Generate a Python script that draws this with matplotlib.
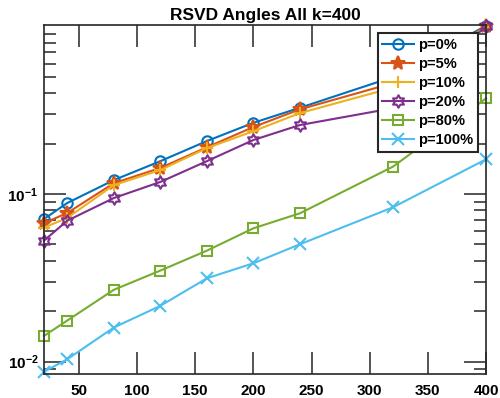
import numpy as np
import matplotlib
matplotlib.use("Agg")
import matplotlib.pyplot as plt
from matplotlib.path import Path
from matplotlib.ticker import FixedLocator, FixedFormatter, NullFormatter

plt.rcParams['font.family'] = ['Liberation Sans', 'DejaVu Sans']
plt.rcParams['font.weight'] = 'bold'
plt.rcParams['mathtext.fontset'] = 'custom'
plt.rcParams['mathtext.rm'] = 'Liberation Sans:bold'
plt.rcParams['mathtext.bf'] = 'Liberation Sans:bold'
plt.rcParams['mathtext.default'] = 'bf'

# ---- data ----
k_values = [20, 40, 80, 120, 160, 200, 240, 320, 400]
p0   = [0.0709, 0.0884, 0.121, 0.157, 0.207, 0.266, 0.327, 0.499, 1.01]
p5   = [0.0670, 0.0770, 0.116, 0.143, 0.190, 0.251, 0.320, 0.459, 1.00]
p10  = [0.0630, 0.0720, 0.113, 0.139, 0.188, 0.237, 0.304, 0.431, 0.99]
p20  = [0.0527, 0.0693, 0.0946, 0.118, 0.157, 0.210, 0.258, 0.325, 1.00]
p80  = [0.01422, 0.01757, 0.0268, 0.0349, 0.0459, 0.0624, 0.0767, 0.1456, 0.372]
p100 = [0.00869, 0.01032, 0.01596, 0.0215, 0.0314, 0.0386, 0.0501, 0.0833, 0.161]
labels = ['p=0%', 'p=5%', 'p=10%', 'p=20%', 'p=80%', 'p=100%']
xtick_vals = [50, 100, 150, 200, 250, 300, 350, 400]
ytick_vals = [0.01, 0.1]
ytick_labels = [r'$10^{-2}$', r'$10^{-1}$']
title = 'RSVD Angles All k=400'

colors = ['#0072BD', '#D95319', '#EDB120', '#7E2F8E', '#77AC30', '#4DBEEE']
hexagram = Path.unit_regular_star(6, 0.577)
markers = ['o', '*', '+', hexagram, 's', 'x']
msizes = [7.5, 10, 9, 9, 7, 8]

fig = plt.figure(figsize=(5.0, 3.98), dpi=100)
ax = fig.add_axes([0.088, 0.0595, 0.884, 0.8775])

series = [p0, p5, p10, p20, p80, p100]
for s, c, m, ms, lab in zip(series, colors, markers, msizes, labels):
    filled = (m == '*')
    ax.plot(k_values, s, color=c, marker=m, markersize=ms, lw=1.5,
            markerfacecolor=(c if filled else 'none'), markeredgecolor=c,
            markeredgewidth=1.5, label=lab, clip_on=False)

ax.set_yscale('log')
ax.set_xlim(20, 400)
ax.set_ylim(0.00839, 1.019)

ax.xaxis.set_major_locator(FixedLocator(xtick_vals))
ax.set_xticklabels([str(v) for v in xtick_vals])
ax.yaxis.set_major_locator(FixedLocator(ytick_vals))
ax.yaxis.set_major_formatter(FixedFormatter(ytick_labels))
minor = [m * 10.0**e for e in (-3, -2, -1) for m in range(2, 10)]
ax.yaxis.set_minor_locator(FixedLocator(minor))
ax.yaxis.set_minor_formatter(NullFormatter())

ax.tick_params(which='major', direction='in', length=16, width=1.1,
               top=True, right=True, labelsize=11, pad=4, color='#262626')
ax.tick_params(axis='x', which='major', pad=7)
ax.tick_params(which='minor', direction='in', length=8.5, width=1.1,
               top=False, right=True, color='#262626')
ax.tick_params(axis='x', which='minor', bottom=False, top=False)
for lbl in ax.get_xticklabels() + ax.get_yticklabels():
    lbl.set_fontweight('bold')
for sp in ax.spines.values():
    sp.set_linewidth(1.2)
    sp.set_color('#262626')

ax.set_title(title, fontsize=12.5, fontweight='bold', pad=4)

leg = ax.legend(loc='upper right', bbox_to_anchor=(0.982, 0.976),
                borderaxespad=0, fancybox=False, framealpha=1,
                edgecolor='#262626', fontsize=10.5, handlelength=2.2,
                handletextpad=0.3, labelspacing=0.35, borderpad=0.3)
leg.get_frame().set_linewidth(1.5)
for t in leg.get_texts():
    t.set_fontweight('bold')

fig.savefig('out.png', dpi=100)
